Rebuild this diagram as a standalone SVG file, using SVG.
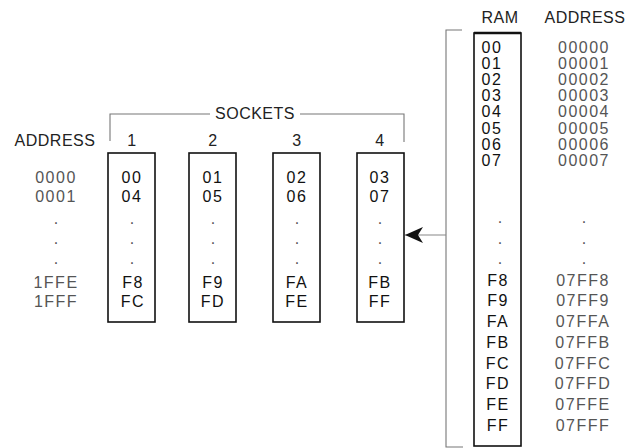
<svg xmlns="http://www.w3.org/2000/svg" width="626" height="448" viewBox="0 0 626 448">
  <defs>
    <style>
      text { font-family: "Liberation Sans", Arial, sans-serif; font-size: 16px; text-anchor: middle; }
      .lbl { fill: #222; letter-spacing: 0.5px; }
      .val { fill: #111; letter-spacing: 1.5px; }
      .adr { fill: #555; letter-spacing: 1.5px; }
      .dot { fill: #555; }
      .box { fill: none; stroke: #111; stroke-width: 1.6; }
      .brk { fill: none; stroke: #777; stroke-width: 1.1; }
      .conn { stroke: #888; stroke-width: 1.2; fill: none; }
    </style>
    <marker id="arrow" markerUnits="userSpaceOnUse" markerWidth="18" markerHeight="16" viewBox="0 0 18 16" refX="18" refY="8" orient="auto">
      <path d="M0,0 L18,8 L0,16 L5,8 Z" fill="#111"/>
    </marker>
  </defs>

  <!-- left address column -->
  <g id="address-left">
    <text class="lbl" x="55" y="146">ADDRESS</text>
    <text class="adr" x="56" y="183">0000</text>
    <text class="adr" x="56" y="202">0001</text>
    <text class="dot" x="56" y="224">.</text>
    <text class="dot" x="56" y="244">.</text>
    <text class="dot" x="56" y="264">.</text>
    <text class="adr" x="56" y="288">1FFE</text>
    <text class="adr" x="56" y="307">1FFF</text>
  </g>

  <!-- sockets bracket -->
  <g id="sockets-label">
    <path class="brk" d="M110,141 V114 H210 M300,114 H404 V142"/>
    <text class="lbl" x="255" y="119">SOCKETS</text>
  </g>

  <g id="socket-1">
    <text class="lbl" x="132" y="146">1</text>
    <rect class="box" x="108" y="153" width="47" height="169"/>
    <text class="val" x="132" y="183">00</text>
    <text class="val" x="132" y="202">04</text>
    <text class="dot" x="132" y="224">.</text>
    <text class="dot" x="132" y="244">.</text>
    <text class="dot" x="132" y="264">.</text>
    <text class="val" x="133" y="288">F8</text>
    <text class="val" x="133" y="307">FC</text>
  </g>

  <g id="socket-2">
    <text class="lbl" x="213" y="146">2</text>
    <rect class="box" x="189" y="153" width="47" height="169"/>
    <text class="val" x="213" y="183">01</text>
    <text class="val" x="213" y="202">05</text>
    <text class="dot" x="213" y="224">.</text>
    <text class="dot" x="213" y="244">.</text>
    <text class="dot" x="213" y="264">.</text>
    <text class="val" x="213" y="288">F9</text>
    <text class="val" x="213" y="307">FD</text>
  </g>

  <g id="socket-3">
    <text class="lbl" x="297" y="146">3</text>
    <rect class="box" x="273" y="153" width="47" height="169"/>
    <text class="val" x="297" y="183">02</text>
    <text class="val" x="297" y="202">06</text>
    <text class="dot" x="297" y="224">.</text>
    <text class="dot" x="297" y="244">.</text>
    <text class="dot" x="297" y="264">.</text>
    <text class="val" x="297" y="288">FA</text>
    <text class="val" x="297" y="307">FE</text>
  </g>

  <g id="socket-4">
    <text class="lbl" x="380" y="146">4</text>
    <rect class="box" x="357" y="153" width="47" height="169"/>
    <text class="val" x="380" y="183">03</text>
    <text class="val" x="380" y="202">07</text>
    <text class="dot" x="380" y="224">.</text>
    <text class="dot" x="380" y="244">.</text>
    <text class="dot" x="380" y="264">.</text>
    <text class="val" x="380" y="288">FB</text>
    <text class="val" x="380" y="307">FF</text>
  </g>

  <!-- RAM -->
  <g id="ram">
    <text class="lbl" x="500" y="23">RAM</text>
    <rect class="box" x="474" y="33" width="47" height="413"/>
    <line x1="474" y1="33" x2="521" y2="33" stroke="#111" stroke-width="2.4"/>
    <text class="val" x="492" y="53">00</text>
    <text class="val" x="492" y="69">01</text>
    <text class="val" x="492" y="85">02</text>
    <text class="val" x="492" y="101">03</text>
    <text class="val" x="492" y="117">04</text>
    <text class="val" x="492" y="134">05</text>
    <text class="val" x="492" y="150">06</text>
    <text class="val" x="492" y="166">07</text>
    <text class="dot" x="500" y="223">.</text>
    <text class="dot" x="500" y="244">.</text>
    <text class="dot" x="500" y="264">.</text>
    <text class="val" x="498" y="286">F8</text>
    <text class="val" x="498" y="306">F9</text>
    <text class="val" x="498" y="327">FA</text>
    <text class="val" x="498" y="348">FB</text>
    <text class="val" x="498" y="369">FC</text>
    <text class="val" x="498" y="389">FD</text>
    <text class="val" x="498" y="410">FE</text>
    <text class="val" x="498" y="431">FF</text>
  </g>

  <g id="address-right">
    <text class="lbl" x="585" y="23">ADDRESS</text>
    <text class="adr" x="584" y="53">00000</text>
    <text class="adr" x="584" y="69">00001</text>
    <text class="adr" x="584" y="85">00002</text>
    <text class="adr" x="584" y="101">00003</text>
    <text class="adr" x="584" y="117">00004</text>
    <text class="adr" x="584" y="134">00005</text>
    <text class="adr" x="584" y="150">00006</text>
    <text class="adr" x="584" y="166">00007</text>
    <text class="dot" x="584" y="223">.</text>
    <text class="dot" x="584" y="244">.</text>
    <text class="dot" x="584" y="264">.</text>
    <text class="adr" x="583" y="286">07FF8</text>
    <text class="adr" x="583" y="306">07FF9</text>
    <text class="adr" x="583" y="327">07FFA</text>
    <text class="adr" x="583" y="348">07FFB</text>
    <text class="adr" x="583" y="369">07FFC</text>
    <text class="adr" x="583" y="389">07FFD</text>
    <text class="adr" x="583" y="410">07FFE</text>
    <text class="adr" x="583" y="431">07FFF</text>
  </g>

  <!-- connectors -->
  <g id="connectors">
    <path class="brk" d="M462,30 H446 V447 H463"/>
    <line class="conn" x1="446" y1="235" x2="405" y2="235" marker-end="url(#arrow)"/>
  </g>
</svg>
